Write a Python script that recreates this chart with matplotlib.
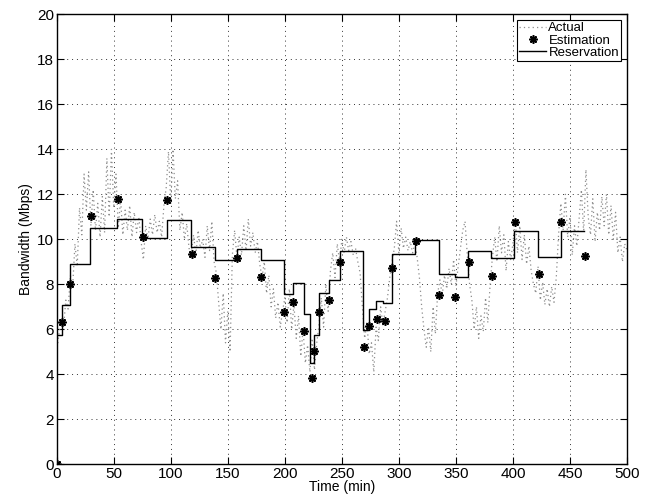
import numpy as np
import matplotlib.pyplot as plt

plt.rcParams['font.family'] = ['Liberation Sans', 'DejaVu Sans']

# Actual bandwidth, one sample every 2 min from t=0 to t=500
actual_t = np.arange(0, 501, 2)
actual_v = [
    5.0, 5.8, 6.4, 6.1, 7.3, 6.9, 8.4, 7.9, 9.8, 8.8,
    11.4, 10.2, 12.9, 11.3, 13.0, 10.6, 12.2, 10.4, 11.6, 10.1,
    11.9, 10.3, 13.6, 11.0, 14.0, 11.4, 12.9, 10.5, 11.8, 10.2,
    11.3, 10.4, 11.5, 10.1, 11.2, 10.3, 11.0, 9.9, 9.1, 10.6,
    10.0, 10.9, 10.2, 11.1, 10.3, 10.8, 10.1, 11.5, 12.3, 13.9,
    11.6, 14.0, 11.8, 12.6, 10.4, 11.2, 10.0, 10.7, 9.6, 9.4,
    10.2, 9.3, 10.4, 9.6, 10.0, 9.2, 10.6, 9.5, 10.8, 9.0,
    8.5, 7.2, 6.0, 7.6, 5.4, 6.8, 5.0, 9.3, 10.4, 9.2,
    10.1, 9.3, 10.6, 9.5, 10.9, 9.7, 10.3, 9.4, 9.9, 8.9,
    8.3, 9.0, 7.6, 8.4, 7.0, 7.8, 6.5, 7.2, 6.1, 6.8,
    7.4, 6.3, 7.8, 6.0, 7.1, 5.6, 6.6, 4.8, 6.0, 4.5,
    5.3, 4.1, 5.6, 4.2, 5.4, 6.2, 7.4, 6.1, 8.0, 6.8,
    8.6, 9.4, 8.3, 9.8, 9.0, 10.0, 9.4, 10.1, 9.5, 9.9,
    9.3, 9.6, 9.0, 8.5, 7.0, 5.6, 6.3, 4.9, 5.4, 4.1,
    6.1, 5.5, 7.0, 6.2, 6.8, 7.4, 8.3, 9.0, 9.6, 10.8,
    9.4, 10.5, 9.6, 10.1, 9.5, 9.9, 9.4, 9.8, 9.2, 8.3,
    7.0, 6.0, 5.2, 6.1, 5.0, 7.0, 5.8, 7.6, 8.2, 7.5,
    8.4, 7.8, 8.7, 8.0, 9.1, 7.9, 8.8, 9.6, 10.4, 10.8,
    9.3, 8.0, 7.3, 6.0, 7.0, 5.6, 6.6, 5.9, 7.4, 6.3,
    8.0, 9.2, 10.1, 9.0, 10.6, 9.4, 10.2, 8.6, 9.9, 9.1,
    9.8, 10.9, 9.4, 10.6, 9.1, 10.2, 8.9, 9.7, 8.6, 8.0,
    7.6, 8.8, 7.3, 8.1, 7.1, 7.8, 7.0, 7.9, 7.2, 8.3,
    10.2, 11.6, 10.4, 12.0, 10.1, 11.0, 9.3, 10.6, 9.7, 10.9,
    12.2, 10.3, 13.1, 11.0, 10.2, 11.8, 9.9, 11.2, 10.4, 11.9,
    10.6, 12.0, 10.2, 11.5, 10.0, 11.2, 9.4, 10.1, 9.0, 9.8,
    9.5,
]

# Estimation points
est_t = [0, 4.9, 11.9, 30.1, 54.1, 75.4, 97, 118.4, 138.9, 158.4, 178.9,
         199.4, 207.6, 217.2, 223.7, 226, 230.4, 238.3, 248.5, 269, 274.2,
         280.7, 287.4, 294.4, 314.9, 335.6, 349.6, 361.4, 381.5, 401.7,
         422.5, 442.4, 463.4]
est_v = [0, 6.34, 8.0, 11.05, 11.78, 10.12, 11.75, 9.35, 8.29, 9.16, 8.31,
         6.77, 7.23, 5.94, 3.82, 5.02, 6.78, 7.3, 8.97, 5.23, 6.15,
         6.47, 6.38, 8.71, 9.94, 7.54, 7.45, 9.0, 8.38, 10.77,
         8.44, 10.77, 9.24]

# Reservation: step start times and levels, last time is the end
res_t = [1, 4.5, 12, 29, 53, 75, 96.5, 117.5, 139, 158, 179, 199, 207.3,
         216.6, 222.5, 225.7, 229.9, 238.5, 248.8, 268.4, 274.2, 279.9,
         286.5, 293.8, 314.3, 334.8, 349.4, 361, 380.7, 401.1, 421.9, 442, 462]
res_v = [5.75, 7.1, 8.9, 10.5, 10.9, 10.05, 10.85, 9.65, 9.1, 9.55, 9.1,
         7.55, 8.07, 6.68, 4.52, 5.75, 7.6, 8.18, 9.48, 5.97, 6.89, 7.26,
         7.16, 9.35, 9.97, 8.46, 8.34, 9.49, 9.17, 10.38, 9.2, 10.38]

fig = plt.figure(figsize=(6.54, 4.99), dpi=100)
ax = fig.add_axes([0.0867, 0.0695, 0.872, 0.9018])

ax.plot(actual_t, actual_v, linestyle=(0, (1, 2.5)), color='0.55', linewidth=0.9, label='Actual')
ax.plot(est_t, est_v, linestyle='none', marker=(8, 2, 0), markersize=6,
        markeredgewidth=1.2, color='black', label='Estimation', zorder=4)
ax.step(res_t, res_v + [res_v[-1]], where='post', color='black', linewidth=1.0,
        label='Reservation', zorder=3)

ax.set_xlim(0, 500)
ax.set_ylim(0, 20)
ax.set_xticks(np.arange(0, 501, 50))
ax.set_yticks(np.arange(0, 21, 2))
ax.grid(True, linestyle=(0, (1, 4)), color='0.2', linewidth=0.7)
ax.tick_params(direction='in', top=True, right=True, labelsize=11, length=5, pad=2)
for s in ax.spines.values():
    s.set_linewidth(1.0)

ax.set_xlabel('Time (min)', fontsize=10, labelpad=-1)
ax.set_ylabel('Bandwidth (Mbps)', fontsize=10, labelpad=3)

leg = ax.legend(loc='upper right', fontsize=9.5, handlelength=2.0, borderpad=0.15,
                labelspacing=0.0, handletextpad=0.2, borderaxespad=0.45,
                fancybox=False, edgecolor='black', framealpha=1)
leg.get_frame().set_linewidth(0.8)

fig.savefig('out.png', dpi=100)
